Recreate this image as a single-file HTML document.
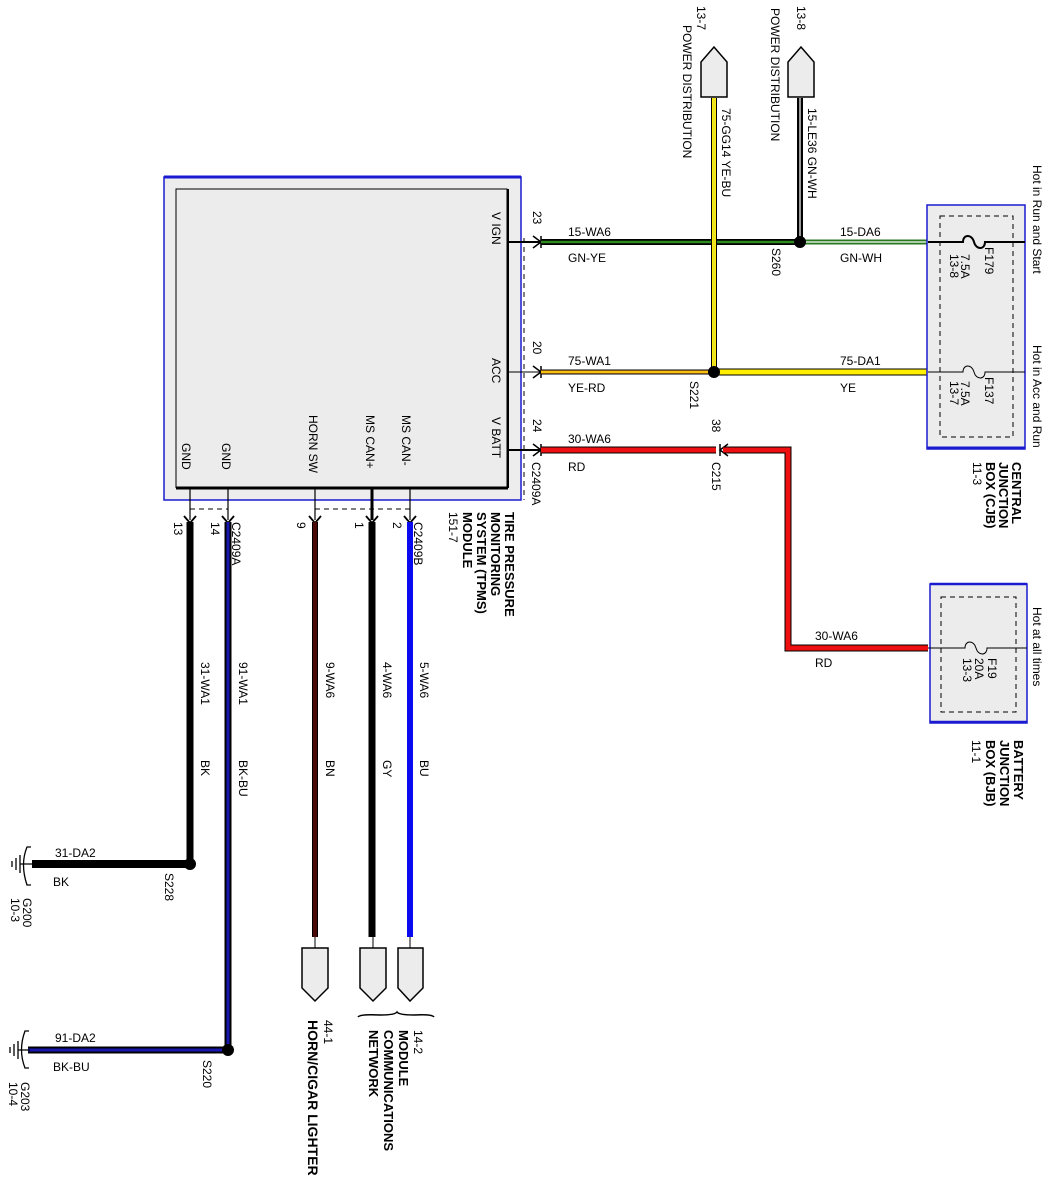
<!DOCTYPE html>
<html><head><meta charset="utf-8"><style>
html,body{margin:0;padding:0;background:#fff}
svg{display:block}
text{font-family:"Liberation Sans",sans-serif;font-size:12px;fill:#000}
.b{font-weight:bold;font-size:13px}
</style></head><body>
<svg width="1060" height="1192" viewBox="0 0 1060 1192" xmlns="http://www.w3.org/2000/svg">
<!-- Module -->
<rect x="164" y="177" width="357" height="323" fill="#ededed" stroke="#1a1ad0" stroke-width="1.5"/>
<line x1="164" y1="177" x2="521" y2="177" stroke="#1a1ad0" stroke-width="3"/>
<polyline points="176,488 176,189 507,189 507,488 176,488" fill="#ececec" stroke="#000" stroke-width="1"/>
<line x1="176" y1="488" x2="508" y2="488" stroke="#000" stroke-width="3"/>
<line x1="508" y1="189" x2="508" y2="488" stroke="#000" stroke-width="2"/>
<g>
<text transform="translate(492,212) rotate(90)">V IGN</text>
<text transform="translate(492,358) rotate(90)">ACC</text>
<text transform="translate(492,417) rotate(90)">V BATT</text>
<text transform="translate(402,415) rotate(90)">MS CAN-</text>
<text transform="translate(366,415) rotate(90)">MS CAN+</text>
<text transform="translate(309,415) rotate(90)">HORN SW</text>
<text transform="translate(222,443) rotate(90)">GND</text>
<text transform="translate(182,443) rotate(90)">GND</text>
</g>
<line x1="524" y1="238" x2="524" y2="500" stroke="#000" stroke-dasharray="5,4"/>
<line x1="508" y1="242" x2="540" y2="242" stroke="#000" stroke-width="2"/>
<line x1="508" y1="372" x2="540" y2="372" stroke="#000" stroke-width="1"/>
<line x1="508" y1="450" x2="540" y2="450" stroke="#000" stroke-width="2"/>
<g fill="none" stroke="#000" stroke-width="1.5">
<path d="M533,236 L541,242 L533,248 M541,236 L541,248"/>
<path d="M533,366 L541,372 L533,378 M541,366 L541,378"/>
<path d="M533,444 L541,450 L533,456 M541,444 L541,456"/>
</g>
<text transform="translate(533,211) rotate(90)">23</text>
<text transform="translate(533,341) rotate(90)">20</text>
<text transform="translate(533,419) rotate(90)">24</text>
<text transform="translate(532,462) rotate(90)">C2409A</text>
<line x1="541" y1="242" x2="800" y2="242" stroke="#000" stroke-width="6"/>
<line x1="541" y1="242" x2="800" y2="242" stroke="#2f8a20" stroke-width="2.5"/>
<text x="568" y="236">15-WA6</text><text x="568" y="262">GN-YE</text>
<line x1="800" y1="242" x2="928" y2="242" stroke="#2a7a20" stroke-width="5"/>
<line x1="800" y1="242" x2="928" y2="242" stroke="#fff" stroke-width="1.2"/>
<text x="840" y="236">15-DA6</text><text x="840" y="262">GN-WH</text>
<line x1="800" y1="98" x2="800" y2="242" stroke="#000" stroke-width="6"/>
<line x1="800" y1="98" x2="800" y2="242" stroke="#fff" stroke-width="1.2"/>
<circle cx="800" cy="242" r="6" fill="#000"/>
<text transform="translate(772,248) rotate(90)">S260</text>
<line x1="541" y1="372" x2="714" y2="372" stroke="#000" stroke-width="5"/>
<line x1="541" y1="372" x2="714" y2="372" stroke="#f0a020" stroke-width="3"/>
<line x1="541" y1="372" x2="714" y2="372" stroke="#ffe000" stroke-width="1"/>
<text x="568" y="365">75-WA1</text><text x="568" y="392">YE-RD</text>
<line x1="714" y1="372" x2="928" y2="372" stroke="#000" stroke-width="7"/>
<line x1="714" y1="372" x2="928" y2="372" stroke="#ffee00" stroke-width="5"/>
<text x="840" y="365">75-DA1</text><text x="840" y="392">YE</text>
<line x1="714" y1="98" x2="714" y2="372" stroke="#000" stroke-width="6"/>
<line x1="714" y1="98" x2="714" y2="372" stroke="#ffee00" stroke-width="4"/>
<line x1="714" y1="98" x2="714" y2="372" stroke="#c8c870" stroke-width="0.8"/>
<circle cx="714" cy="372" r="6" fill="#000"/>
<text transform="translate(690,381) rotate(90)">S221</text>
<path d="M701,97 L701,62 L714,47 L727,62 L727,97 Z" fill="#ececec" stroke="#000" stroke-width="1.5"/>
<path d="M788,97 L788,62 L801,47 L814,62 L814,97 Z" fill="#ececec" stroke="#000" stroke-width="1.5"/>
<text transform="translate(697,6) rotate(90)">13-7</text>
<text transform="translate(683,25) rotate(90)">POWER DISTRIBUTION</text>
<text transform="translate(797,6) rotate(90)">13-8</text>
<text transform="translate(771,8) rotate(90)">POWER DISTRIBUTION</text>
<text transform="translate(722,108) rotate(90)">75-GG14  YE-BU</text>
<text transform="translate(808,108) rotate(90)">15-LE36  GN-WH</text>
<line x1="541" y1="450" x2="716" y2="450" stroke="#000" stroke-width="7"/>
<line x1="541" y1="450" x2="716" y2="450" stroke="#ee1010" stroke-width="5"/>
<path d="M728,444 L720,450 L728,456 M720,444 L720,456" fill="none" stroke="#000" stroke-width="1.5"/>
<polyline points="723,450 788,450 788,648 928,648" fill="none" stroke="#000" stroke-width="7"/>
<polyline points="723,450 788,450 788,648 928,648" fill="none" stroke="#ee1010" stroke-width="5"/>
<text x="568" y="443">30-WA6</text><text x="568" y="471">RD</text>
<text transform="translate(712,419) rotate(90)">38</text>
<text transform="translate(712,462) rotate(90)">C215</text>
<text x="815" y="640">30-WA6</text><text x="815" y="667">RD</text>
<!-- CJB -->
<rect x="927" y="205" width="98" height="244" fill="#ececec" stroke="#1a1ad0" stroke-width="1.5"/>
<line x1="927" y1="448" x2="1025" y2="448" stroke="#1a1ad0" stroke-width="3"/>
<rect x="940" y="216" width="73" height="221" fill="none" stroke="#000" stroke-dasharray="5,4"/>
<g fill="none" stroke="#000" stroke-width="2">
<path d="M928,242 L963,242 C963,234 972,234 974,242 C976,250 985,250 985,242 L1025,242"/>
<path d="M928,372 L963,372 C963,364 972,364 974,372 C976,380 985,380 985,372 L1025,372" stroke-width="1"/>
</g>
<text transform="translate(985,247) rotate(90)">F179</text>
<text transform="translate(961,254) rotate(90)">7.5A</text>
<text transform="translate(950,254) rotate(90)">13-8</text>
<text transform="translate(985,377) rotate(90)">F137</text>
<text transform="translate(961,381) rotate(90)">7.5A</text>
<text transform="translate(950,381) rotate(90)">13-7</text>
<text transform="translate(1033,165) rotate(90)">Hot in Run and Start</text>
<text transform="translate(1033,345) rotate(90)">Hot in Acc and Run</text>
<text class="b" transform="translate(1012,462) rotate(90)">CENTRAL</text>
<text class="b" transform="translate(999,462) rotate(90)">JUNCTION</text>
<text class="b" transform="translate(986,462) rotate(90)">BOX (CJB)</text>
<text transform="translate(973,462) rotate(90)">11-3</text>
<!-- BJB -->
<rect x="930" y="584" width="97" height="139" fill="#ececec" stroke="#1a1ad0" stroke-width="1.5"/>
<line x1="930" y1="584" x2="1027" y2="584" stroke="#1a1ad0" stroke-width="2.5"/>
<line x1="930" y1="722" x2="1027" y2="722" stroke="#1a1ad0" stroke-width="2.5"/>
<rect x="941" y="597" width="75" height="115" fill="none" stroke="#000" stroke-dasharray="5,4"/>
<path d="M928,648 L965,648 C965,640 974,640 976,648 C978,656 987,656 987,648 L1027,648" fill="none" stroke="#000" stroke-width="1"/>
<text transform="translate(988,658) rotate(90)">F19</text>
<text transform="translate(975,658) rotate(90)">20A</text>
<text transform="translate(963,658) rotate(90)">13-3</text>
<text transform="translate(1033,607) rotate(90)">Hot at all times</text>
<text class="b" transform="translate(1014,740) rotate(90)">BATTERY</text>
<text class="b" transform="translate(1000,740) rotate(90)">JUNCTION</text>
<text class="b" transform="translate(986,740) rotate(90)">BOX (BJB)</text>
<text transform="translate(972,740) rotate(90)">11-1</text>
<!-- TPMS label -->
<text class="b" transform="translate(505,512) rotate(90)">TIRE PRESSURE</text>
<text class="b" transform="translate(491,512) rotate(90)">MONITORING</text>
<text class="b" transform="translate(477,512) rotate(90)">SYSTEM (TPMS)</text>
<text class="b" transform="translate(463,512) rotate(90)">MODULE</text>
<text transform="translate(449,512) rotate(90)">151-7</text>
<!-- bottom pins -->
<g stroke="#000" stroke-width="1.2">
<line x1="190" y1="488" x2="190" y2="520"/>
<line x1="228" y1="488" x2="228" y2="520"/>
<line x1="315" y1="488" x2="315" y2="520"/>
<line x1="372" y1="488" x2="372" y2="520" stroke-width="3"/>
<line x1="410" y1="488" x2="410" y2="520"/>
</g>
<g stroke="#000" stroke-dasharray="5,4">
<line x1="190" y1="509" x2="228" y2="509"/>
<line x1="315" y1="509" x2="410" y2="509"/>
</g>
<g fill="none" stroke="#000" stroke-width="1.8">
<path d="M184,516 L190,523 L196,516"/>
<path d="M222,516 L228,523 L234,516"/>
<path d="M309,516 L315,523 L321,516"/>
<path d="M366,516 L372,523 L378,516"/>
<path d="M404,516 L410,523 L416,516"/>
</g>
<text transform="translate(174,522) rotate(90)">13</text>
<text transform="translate(211,522) rotate(90)">14</text>
<text transform="translate(297,522) rotate(90)">9</text>
<text transform="translate(355,522) rotate(90)">1</text>
<text transform="translate(393,522) rotate(90)">2</text>
<text transform="translate(232,522) rotate(90)">C2409A</text>
<text transform="translate(414,522) rotate(90)">C2409B</text>
<line x1="190" y1="522" x2="190" y2="864" stroke="#000" stroke-width="7"/>
<line x1="228" y1="522" x2="228" y2="1050" stroke="#000" stroke-width="7"/>
<line x1="228" y1="522" x2="228" y2="1050" stroke="#1818b0" stroke-width="3"/>
<line x1="315" y1="522" x2="315" y2="937" stroke="#000" stroke-width="6"/>
<line x1="315" y1="522" x2="315" y2="937" stroke="#4a0a0a" stroke-width="4"/>
<line x1="372" y1="522" x2="372" y2="937" stroke="#000" stroke-width="7"/>
<line x1="410" y1="522" x2="410" y2="937" stroke="#0a0aee" stroke-width="6"/>
<g stroke="#000"><line x1="315" y1="937" x2="315" y2="948"/><line x1="373" y1="937" x2="373" y2="948"/><line x1="410" y1="937" x2="410" y2="948"/></g>
<text transform="translate(201,662) rotate(90)">31-WA1</text><text transform="translate(201,760) rotate(90)">BK</text>
<text transform="translate(239,662) rotate(90)">91-WA1</text><text transform="translate(239,760) rotate(90)">BK-BU</text>
<text transform="translate(326,662) rotate(90)">9-WA6</text><text transform="translate(326,760) rotate(90)">BN</text>
<text transform="translate(383,662) rotate(90)">4-WA6</text><text transform="translate(383,760) rotate(90)">GY</text>
<text transform="translate(420,662) rotate(90)">5-WA6</text><text transform="translate(420,760) rotate(90)">BU</text>
<path d="M302,948 L302,988 L315,1001 L328,988 L328,948 Z" fill="#ececec" stroke="#000" stroke-width="1.5"/>
<path d="M360,948 L360,988 L373,1001 L386,988 L386,948 Z" fill="#ececec" stroke="#000" stroke-width="1.5"/>
<path d="M398,948 L398,988 L410,1001 L423,988 L423,948 Z" fill="#ececec" stroke="#000" stroke-width="1.5"/>
<path d="M358,1017 Q360,1014 380,1015 Q395,1015 397,1012 Q399,1015 414,1015 Q432,1014 434,1017" fill="none" stroke="#000" stroke-width="1.5"/>
<text transform="translate(324,1020) rotate(90)">44-1</text>
<text class="b" style="font-size:14px" transform="translate(308,1020) rotate(90)">HORN/CIGAR LIGHTER</text>
<text transform="translate(414,1030) rotate(90)">14-2</text>
<text class="b" transform="translate(399,1030) rotate(90)">MODULE</text>
<text class="b" transform="translate(384,1030) rotate(90)">COMMUNICATIONS</text>
<text class="b" transform="translate(369,1030) rotate(90)">NETWORK</text>
<line x1="32" y1="864" x2="190" y2="864" stroke="#000" stroke-width="8"/>
<circle cx="190" cy="864" r="6" fill="#000"/>
<line x1="28" y1="1050" x2="228" y2="1050" stroke="#000" stroke-width="7"/>
<line x1="28" y1="1050" x2="228" y2="1050" stroke="#1818b0" stroke-width="3"/>
<circle cx="228" cy="1050" r="6" fill="#000"/>
<text x="55" y="857">31-DA2</text><text x="53" y="886">BK</text>
<text x="55" y="1042">91-DA2</text><text x="53" y="1071">BK-BU</text>
<text transform="translate(165,873) rotate(90)">S228</text>
<text transform="translate(203,1060) rotate(90)">S220</text>
<g fill="none" stroke="#000" stroke-width="1.3">
<path d="M12,861 L12,867 M16,858 L16,870 M20,855 L20,873 M20,864 L32,864"/>
<path d="M31,847 L27,847 Q20,864 27,885 L31,885"/>
<path d="M10,1047 L10,1053 M14,1044 L14,1056 M18,1041 L18,1059 M18,1050 L30,1050"/>
<path d="M29,1031 L25,1031 Q18,1050 25,1068 L29,1068"/>
</g>
<text transform="translate(23,898) rotate(90)">G200</text>
<text transform="translate(11,898) rotate(90)">10-3</text>
<text transform="translate(21,1082) rotate(90)">G203</text>
<text transform="translate(9,1082) rotate(90)">10-4</text>
</svg>
</body></html>
